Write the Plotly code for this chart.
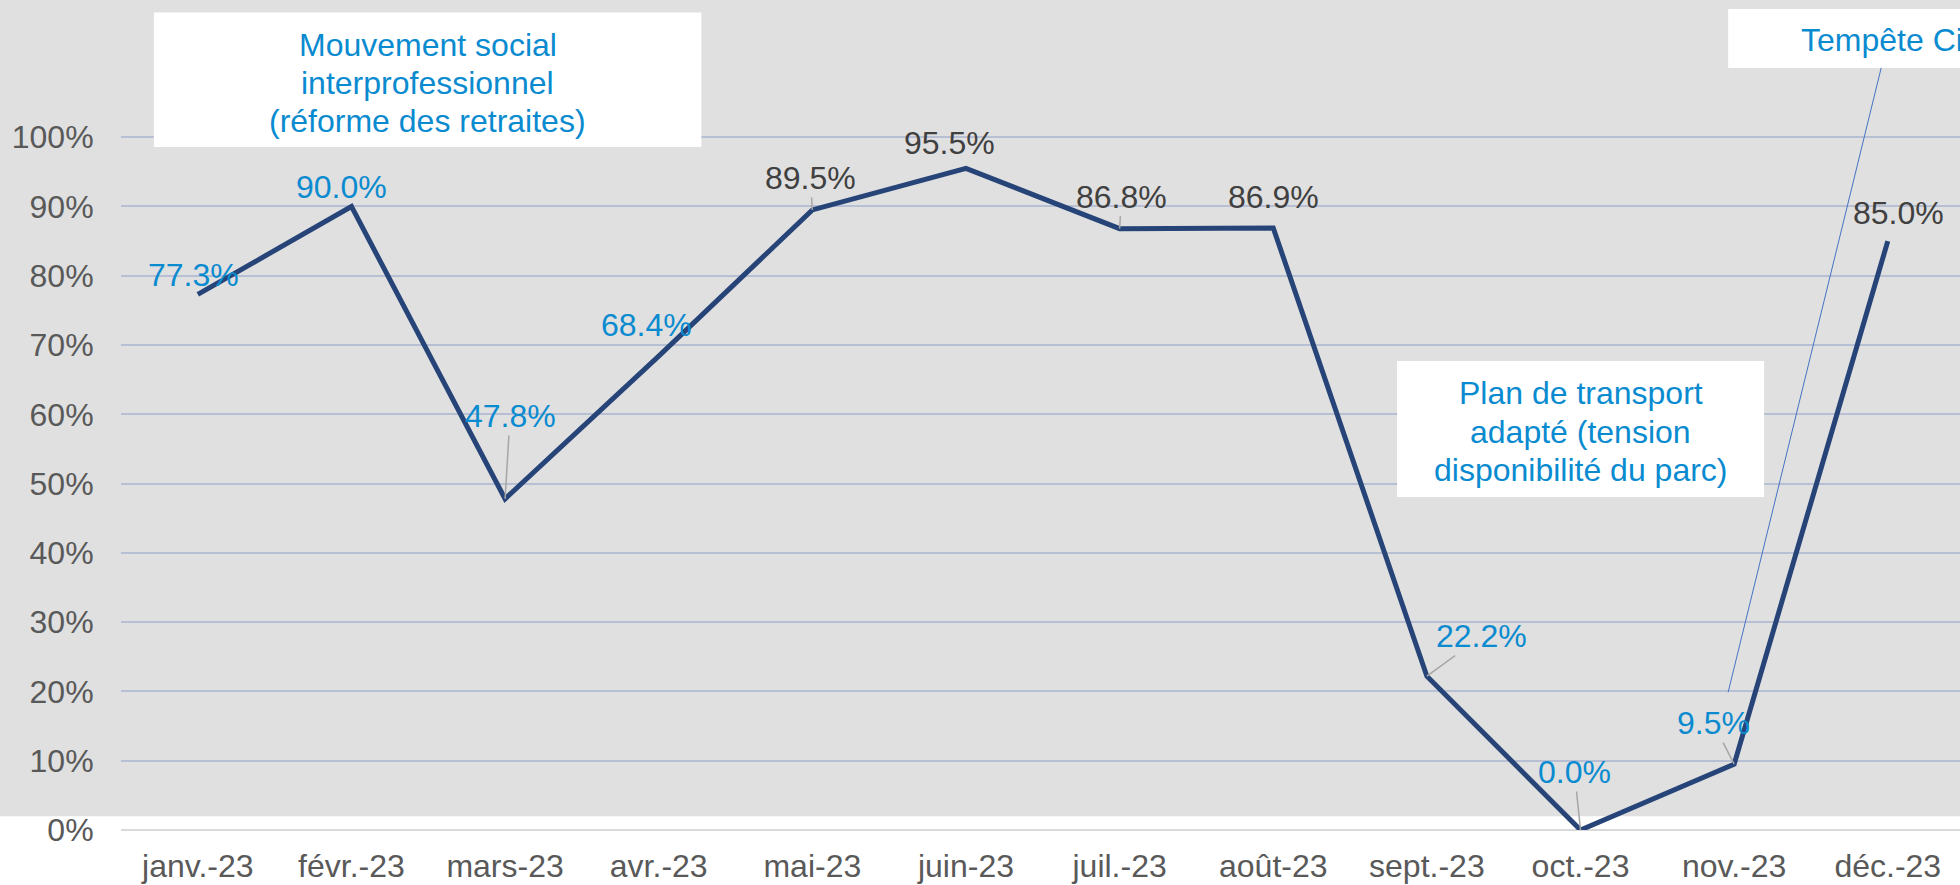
"""Taux mensuel 2023 - graphique Plotly."""

from __future__ import annotations

import plotly.graph_objects as go

months = [
    "janv.-23", "févr.-23", "mars-23", "avr.-23", "mai-23", "juin-23",
    "juil.-23", "août-23", "sept.-23", "oct.-23", "nov.-23", "déc.-23",
]
rates = [77.3, 90.0, 47.8, 68.4, 89.5, 95.5, 86.8, 86.9, 22.2, 0.0, 9.5, 85.0]
y_ticks = [0, 10, 20, 30, 40, 50, 60, 70, 80, 90, 100]
y_tick_labels = [f"{v}%" for v in y_ticks]

box_social = ["Mouvement social", "interprofessionnel", "(réforme des retraites)"]
box_plan = ["Plan de transport", "adapté (tension", "disponibilité du parc)"]
box_storm = "Tempête Ciarán"

BLUE_TXT = "#0a8bd0"
DARK_TXT = "#404040"
LEADER = "#a6a6a6"
NAVY = "#264478"
FONT = "Liberation Sans, Arial, sans-serif"

# offsets (px) of each data label, colour, leader line or not
label_style = [
    (-4, -19, BLUE_TXT, False),
    (-10, -19, BLUE_TXT, False),
    (5, -83, BLUE_TXT, True),
    (-12, -31, BLUE_TXT, False),
    (-2, -32, DARK_TXT, True),
    (-16, -25, DARK_TXT, False),
    (2, -32, DARK_TXT, True),
    (0, -31, DARK_TXT, False),
    (55, -40, BLUE_TXT, True),
    (-6, -58, BLUE_TXT, True),
    (-21, -41, BLUE_TXT, True),
    (11, -28, DARK_TXT, False),
]

fig = go.Figure()
fig.add_trace(
    go.Scatter(
        x=months,
        y=rates,
        mode="lines",
        line={"color": NAVY, "width": 5},
        cliponaxis=False,
        hovertemplate="%{x}<br>%{y:.1f}%<extra></extra>",
    )
)

for i, (month, value) in enumerate(zip(months, rates)):
    ax, ay, color, leader = label_style[i]
    fig.add_annotation(
        x=i, y=value, xref="x", yref="y",
        text=f"{value:.1f}%",
        showarrow=True, arrowhead=0, arrowwidth=1.5, standoff=0,
        arrowcolor=LEADER if leader else "rgba(0,0,0,0)",
        ax=ax, ay=ay,
        font={"size": 32, "color": color},
    )

# fond gris, encadrés blancs, trait de rappel
shapes = [
    dict(type="rect", xref="paper", yref="y", x0=-0.1, x1=1.0, y0=2.0, y1=119.8,
         fillcolor="#e0e0e0", line={"width": 0}, layer="below"),
    dict(type="rect", xref="x", yref="y", x0=-0.286, x1=3.278, y0=98.6, y1=118.0,
         fillcolor="white", line={"width": 0}, layer="above"),
    dict(type="rect", xref="x", yref="y", x0=7.806, x1=10.195, y0=48.05, y1=67.7,
         fillcolor="white", line={"width": 0}, layer="above"),
    dict(type="rect", xref="x", yref="y", x0=9.961, x1=13.0, y0=110.0, y1=118.5,
         fillcolor="white", line={"width": 0}, layer="above"),
    dict(type="line", xref="x", yref="y", x0=10.957, y0=110.0, x1=9.961, y1=19.9,
         line={"color": "#4472c4", "width": 1}),
]
fig.update_layout(shapes=shapes)

for line, ypos in zip(box_social, [113.3, 107.8, 102.3]):
    fig.add_annotation(x=1.496, y=ypos, xref="x", yref="y", text=line, showarrow=False,
                       xanchor="center", yanchor="middle",
                       font={"size": 32, "color": BLUE_TXT})
for line, ypos in zip(box_plan, [63.1, 57.5, 52.0]):
    fig.add_annotation(x=9.0, y=ypos, xref="x", yref="y", text=line, showarrow=False,
                       xanchor="center", yanchor="middle",
                       font={"size": 32, "color": BLUE_TXT})
fig.add_annotation(x=10.42, y=114.0, xref="x", yref="y", text=box_storm, showarrow=False,
                   xanchor="left", yanchor="middle",
                   font={"size": 32, "color": BLUE_TXT})

fig.update_layout(
    width=1960,
    height=885,
    margin={"l": 121, "r": 0, "t": 0, "b": 55},
    paper_bgcolor="white",
    plot_bgcolor="rgba(0,0,0,0)",
    showlegend=False,
    font={"family": FONT, "size": 32, "color": "#595959"},
)
fig.update_xaxes(
    type="category",
    range=[-0.5, 11.47],
    showgrid=False,
    showline=False,
    zeroline=False,
    ticks="outside",
    ticklen=8,
    tickcolor="rgba(0,0,0,0)",
    tickfont={"size": 32, "color": "#595959"},
)
fig.update_yaxes(
    range=[0, 119.8],
    tickvals=y_ticks,
    ticktext=y_tick_labels,
    gridcolor="#b6bfd3",
    gridwidth=2,
    zeroline=True,
    zerolinecolor="#d9d9d9",
    zerolinewidth=2,
    showline=False,
    ticks="outside",
    ticklen=20,
    tickcolor="rgba(0,0,0,0)",
    tickfont={"size": 32, "color": "#595959"},
)

fig.write_html(
    "out.html",
    config={"displayModeBar": False},
    post_script="document.body.style.margin='0';",
)
